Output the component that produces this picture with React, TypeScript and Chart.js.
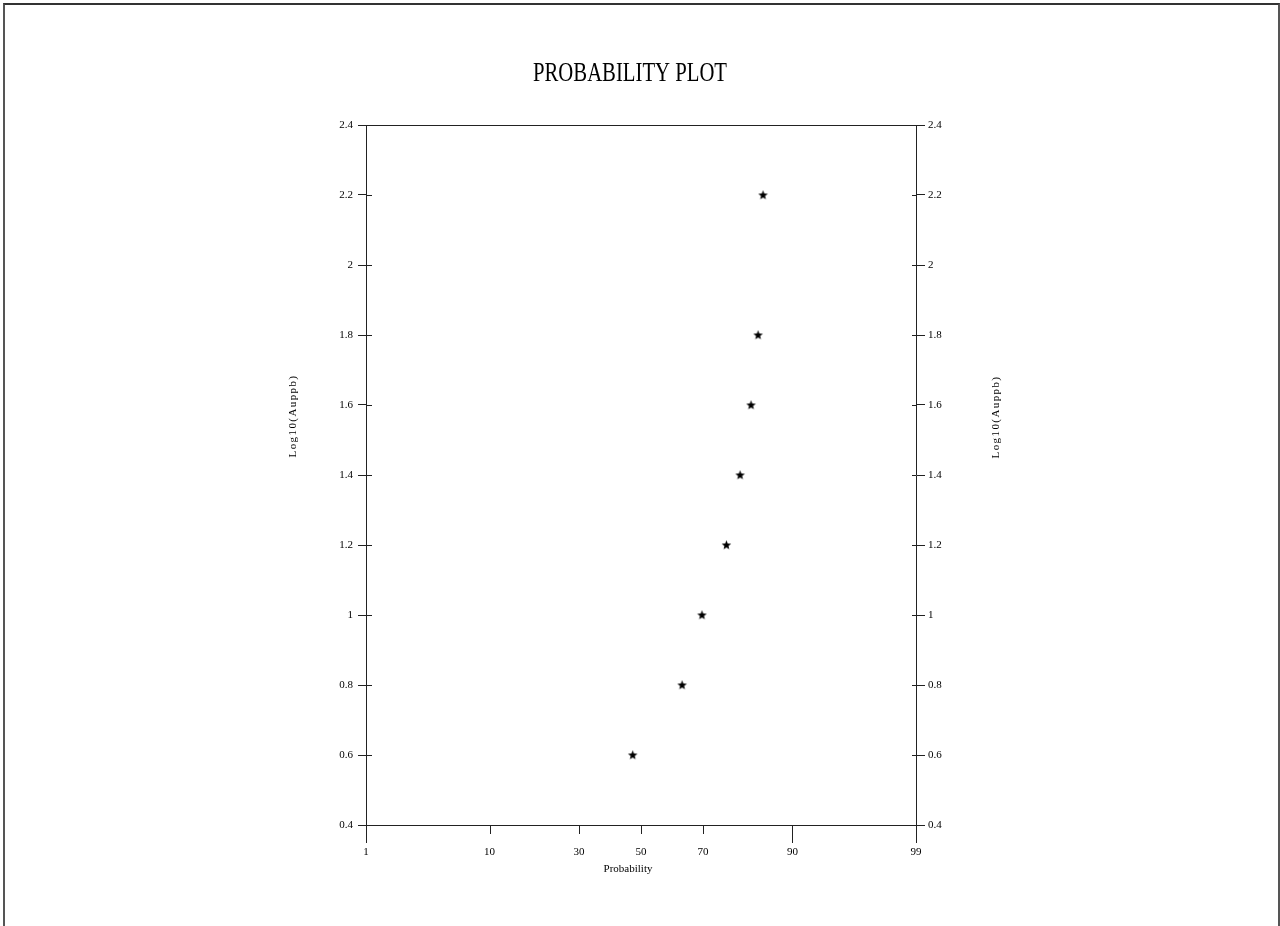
import React, { useEffect, useRef } from "react";
import { Chart, registerables } from "chart.js";

Chart.register(...registerables);

// ---- data ----
const LOG_AU = [0.6, 0.8, 1.0, 1.2, 1.4, 1.6, 1.8, 2.2];
const PROBABILITY = [47.2, 63.6, 69.7, 76.5, 79.9, 82.4, 83.9, 84.9];
const X_TICK_PROBS = [1, 10, 30, 50, 70, 90, 99];
const Y_MIN = 0.4;
const Y_MAX = 2.4;
const Y_STEP = 0.2;
const TITLE = "PROBABILITY PLOT";
const X_TITLE = "Probability";
const Y_TITLE = "Log10(Auppb)";

const LONG_TICKS = [1, 90, 99];
const FONT = '"Liberation Serif", "Times New Roman", serif';

// inverse standard normal CDF (Acklam)
function norminv(p: number): number {
  const a = [-3.969683028665376e1, 2.209460984245205e2, -2.759285104469687e2, 1.38357751867269e2, -3.066479806614716e1, 2.506628277459239];
  const b = [-5.447609879822406e1, 1.615858368580409e2, -1.556989798598866e2, 6.680131188771972e1, -1.328068155288572e1];
  const c = [-7.784894002430293e-3, -3.223964580411365e-1, -2.400758277161838, -2.549671323389570, 4.374664141464968, 2.938163982698783];
  const d = [7.784695709041462e-3, 3.224671290700398e-1, 2.445134137142996, 3.754408661907416];
  const plow = 0.02425;
  if (p < plow) {
    const q = Math.sqrt(-2 * Math.log(p));
    return (((((c[0] * q + c[1]) * q + c[2]) * q + c[3]) * q + c[4]) * q + c[5]) /
      ((((d[0] * q + d[1]) * q + d[2]) * q + d[3]) * q + 1);
  }
  if (p <= 1 - plow) {
    const q = p - 0.5;
    const r = q * q;
    return ((((((a[0] * r + a[1]) * r + a[2]) * r + a[3]) * r + a[4]) * r + a[5]) * q) /
      (((((b[0] * r + b[1]) * r + b[2]) * r + b[3]) * r + b[4]) * r + 1);
  }
  const q = Math.sqrt(-2 * Math.log(1 - p));
  return -(((((c[0] * q + c[1]) * q + c[2]) * q + c[3]) * q + c[4]) * q + c[5]) /
    ((((d[0] * q + d[1]) * q + d[2]) * q + d[3]) * q + 1);
}

function makeStar(): HTMLCanvasElement {
  const cv = document.createElement("canvas");
  cv.width = 11;
  cv.height = 11;
  const g = cv.getContext("2d")!;
  g.fillStyle = "#000";
  g.beginPath();
  const cx = 5.5, cy = 5.8, R = 5, r = 2.1;
  for (let i = 0; i < 10; i++) {
    const ang = -Math.PI / 2 + (i * Math.PI) / 5;
    const rad = i % 2 === 0 ? R : r;
    const px = cx + rad * Math.cos(ang);
    const py = cy + rad * Math.sin(ang);
    if (i === 0) g.moveTo(px, py);
    else g.lineTo(px, py);
  }
  g.closePath();
  g.fill();
  return cv;
}

const fmtY = (v: any) => String(Number(Number(v).toFixed(1)));

const decorPlugin = {
  id: "decor",
  afterDraw(chart: any) {
    const { ctx, chartArea, scales } = chart;
    const { left, right, top, bottom } = chartArea;
    const x = scales.x;
    const y = scales.y;
    ctx.save();
    ctx.strokeStyle = "#222";
    ctx.lineWidth = 1;
    ctx.beginPath();
    // top border
    ctx.moveTo(left, Math.round(top) + 0.5);
    ctx.lineTo(right, Math.round(top) + 0.5);
    // inner y ticks
    y.ticks.forEach((t: any) => {
      const py = Math.round(y.getPixelForValue(t.value)) + 0.5;
      ctx.moveTo(left, py);
      ctx.lineTo(left + 6, py);
      ctx.moveTo(right - 4, py);
      ctx.lineTo(right, py);
    });
    // x ticks
    X_TICK_PROBS.forEach((p) => {
      const px = Math.round(x.getPixelForValue(norminv(p / 100))) + 0.5;
      ctx.moveTo(px, bottom);
      ctx.lineTo(px, bottom + (LONG_TICKS.includes(p) ? 18 : 9));
    });
    ctx.stroke();

    ctx.fillStyle = "#000";
    // title
    ctx.font = `28px ${FONT}`;
    ctx.textAlign = "center";
    ctx.textBaseline = "alphabetic";
    ctx.fillText(TITLE, 630, 81, 194);
    // x title
    ctx.font = `11px ${FONT}`;
    ctx.fillText(X_TITLE, 628, 872);
    // y titles
    ctx.font = `11px ${FONT}`;
    ctx.textBaseline = "middle";
    try { (ctx as any).letterSpacing = "1.4px"; } catch (e) {}
    [[293, 416], [996, 417]].forEach(([tx, ty]) => {
      ctx.save();
      ctx.translate(tx, ty);
      ctx.rotate(-Math.PI / 2);
      ctx.fillText(Y_TITLE, 0, 0);
      ctx.restore();
    });
    ctx.restore();
  },
};

export default function App() {
  const ref = useRef<HTMLCanvasElement>(null);
  useEffect(() => {
    if (!ref.current) return;
    const star = makeStar();
    const points = PROBABILITY.map((p, i) => ({ x: norminv(p / 100), y: LOG_AU[i] }));
    const tickFont = { family: FONT, size: 11 };
    const chart = new Chart(ref.current, {
      type: "scatter",
      data: {
        datasets: [
          {
            data: points,
            pointStyle: star as any,
            pointRadius: 5,
            backgroundColor: "#000",
            borderColor: "#000",
          },
        ],
      },
      options: {
        animation: false,
        responsive: false,
        events: [],
        layout: { padding: { top: 125, left: 0, right: 0, bottom: 0 } },
        plugins: { legend: { display: false }, title: { display: false }, tooltip: { enabled: false } },
        scales: {
          x: {
            type: "linear",
            min: norminv(X_TICK_PROBS[0] / 100),
            max: norminv(X_TICK_PROBS[X_TICK_PROBS.length - 1] / 100),
            afterBuildTicks: (s: any) => {
              s.ticks = X_TICK_PROBS.map((p) => ({ value: norminv(p / 100) }));
            },
            afterFit: (s: any) => {
              s.height = 101;
            },
            grid: { drawOnChartArea: false, drawTicks: false, display: false },
            border: { display: true, color: "#222", width: 1 },
            ticks: {
              autoSkip: false,
              maxRotation: 0,
              padding: 21,
              color: "#000",
              font: tickFont,
              callback: (_v: any, i: number) => String(X_TICK_PROBS[i]),
            },
          },
          y: {
            type: "linear",
            position: "left",
            min: Y_MIN,
            max: Y_MAX,
            afterFit: (s: any) => {
              s.width = 366;
            },
            grid: { drawOnChartArea: false, drawTicks: true, tickLength: 8, color: "#222" },
            border: { display: true, color: "#222", width: 1 },
            ticks: { stepSize: Y_STEP, padding: 5, color: "#000", font: tickFont, callback: fmtY },
          },
          y2: {
            type: "linear",
            position: "right",
            min: Y_MIN,
            max: Y_MAX,
            afterFit: (s: any) => {
              s.width = 364;
            },
            grid: { drawOnChartArea: false, drawTicks: true, tickLength: 9, color: "#222" },
            border: { display: true, color: "#222", width: 1 },
            ticks: { stepSize: Y_STEP, padding: 3, color: "#000", font: tickFont, callback: fmtY },
          },
        },
      } as any,
      plugins: [decorPlugin],
    });
    return () => chart.destroy();
  }, []);

  return (
    <div style={{ position: "fixed", left: 0, top: 0, width: 1280, height: 926, overflow: "hidden", background: "#fff" }}>
      <div
        style={{
          position: "absolute",
          left: 3,
          top: 3,
          width: 1273,
          height: 1000,
          border: "2px solid #555",
          borderTopColor: "#333",
          boxSizing: "content-box",
        }}
      />
      <canvas ref={ref} width={1280} height={926} style={{ position: "absolute", left: 0, top: 0, display: "block" }} />
    </div>
  );
}
